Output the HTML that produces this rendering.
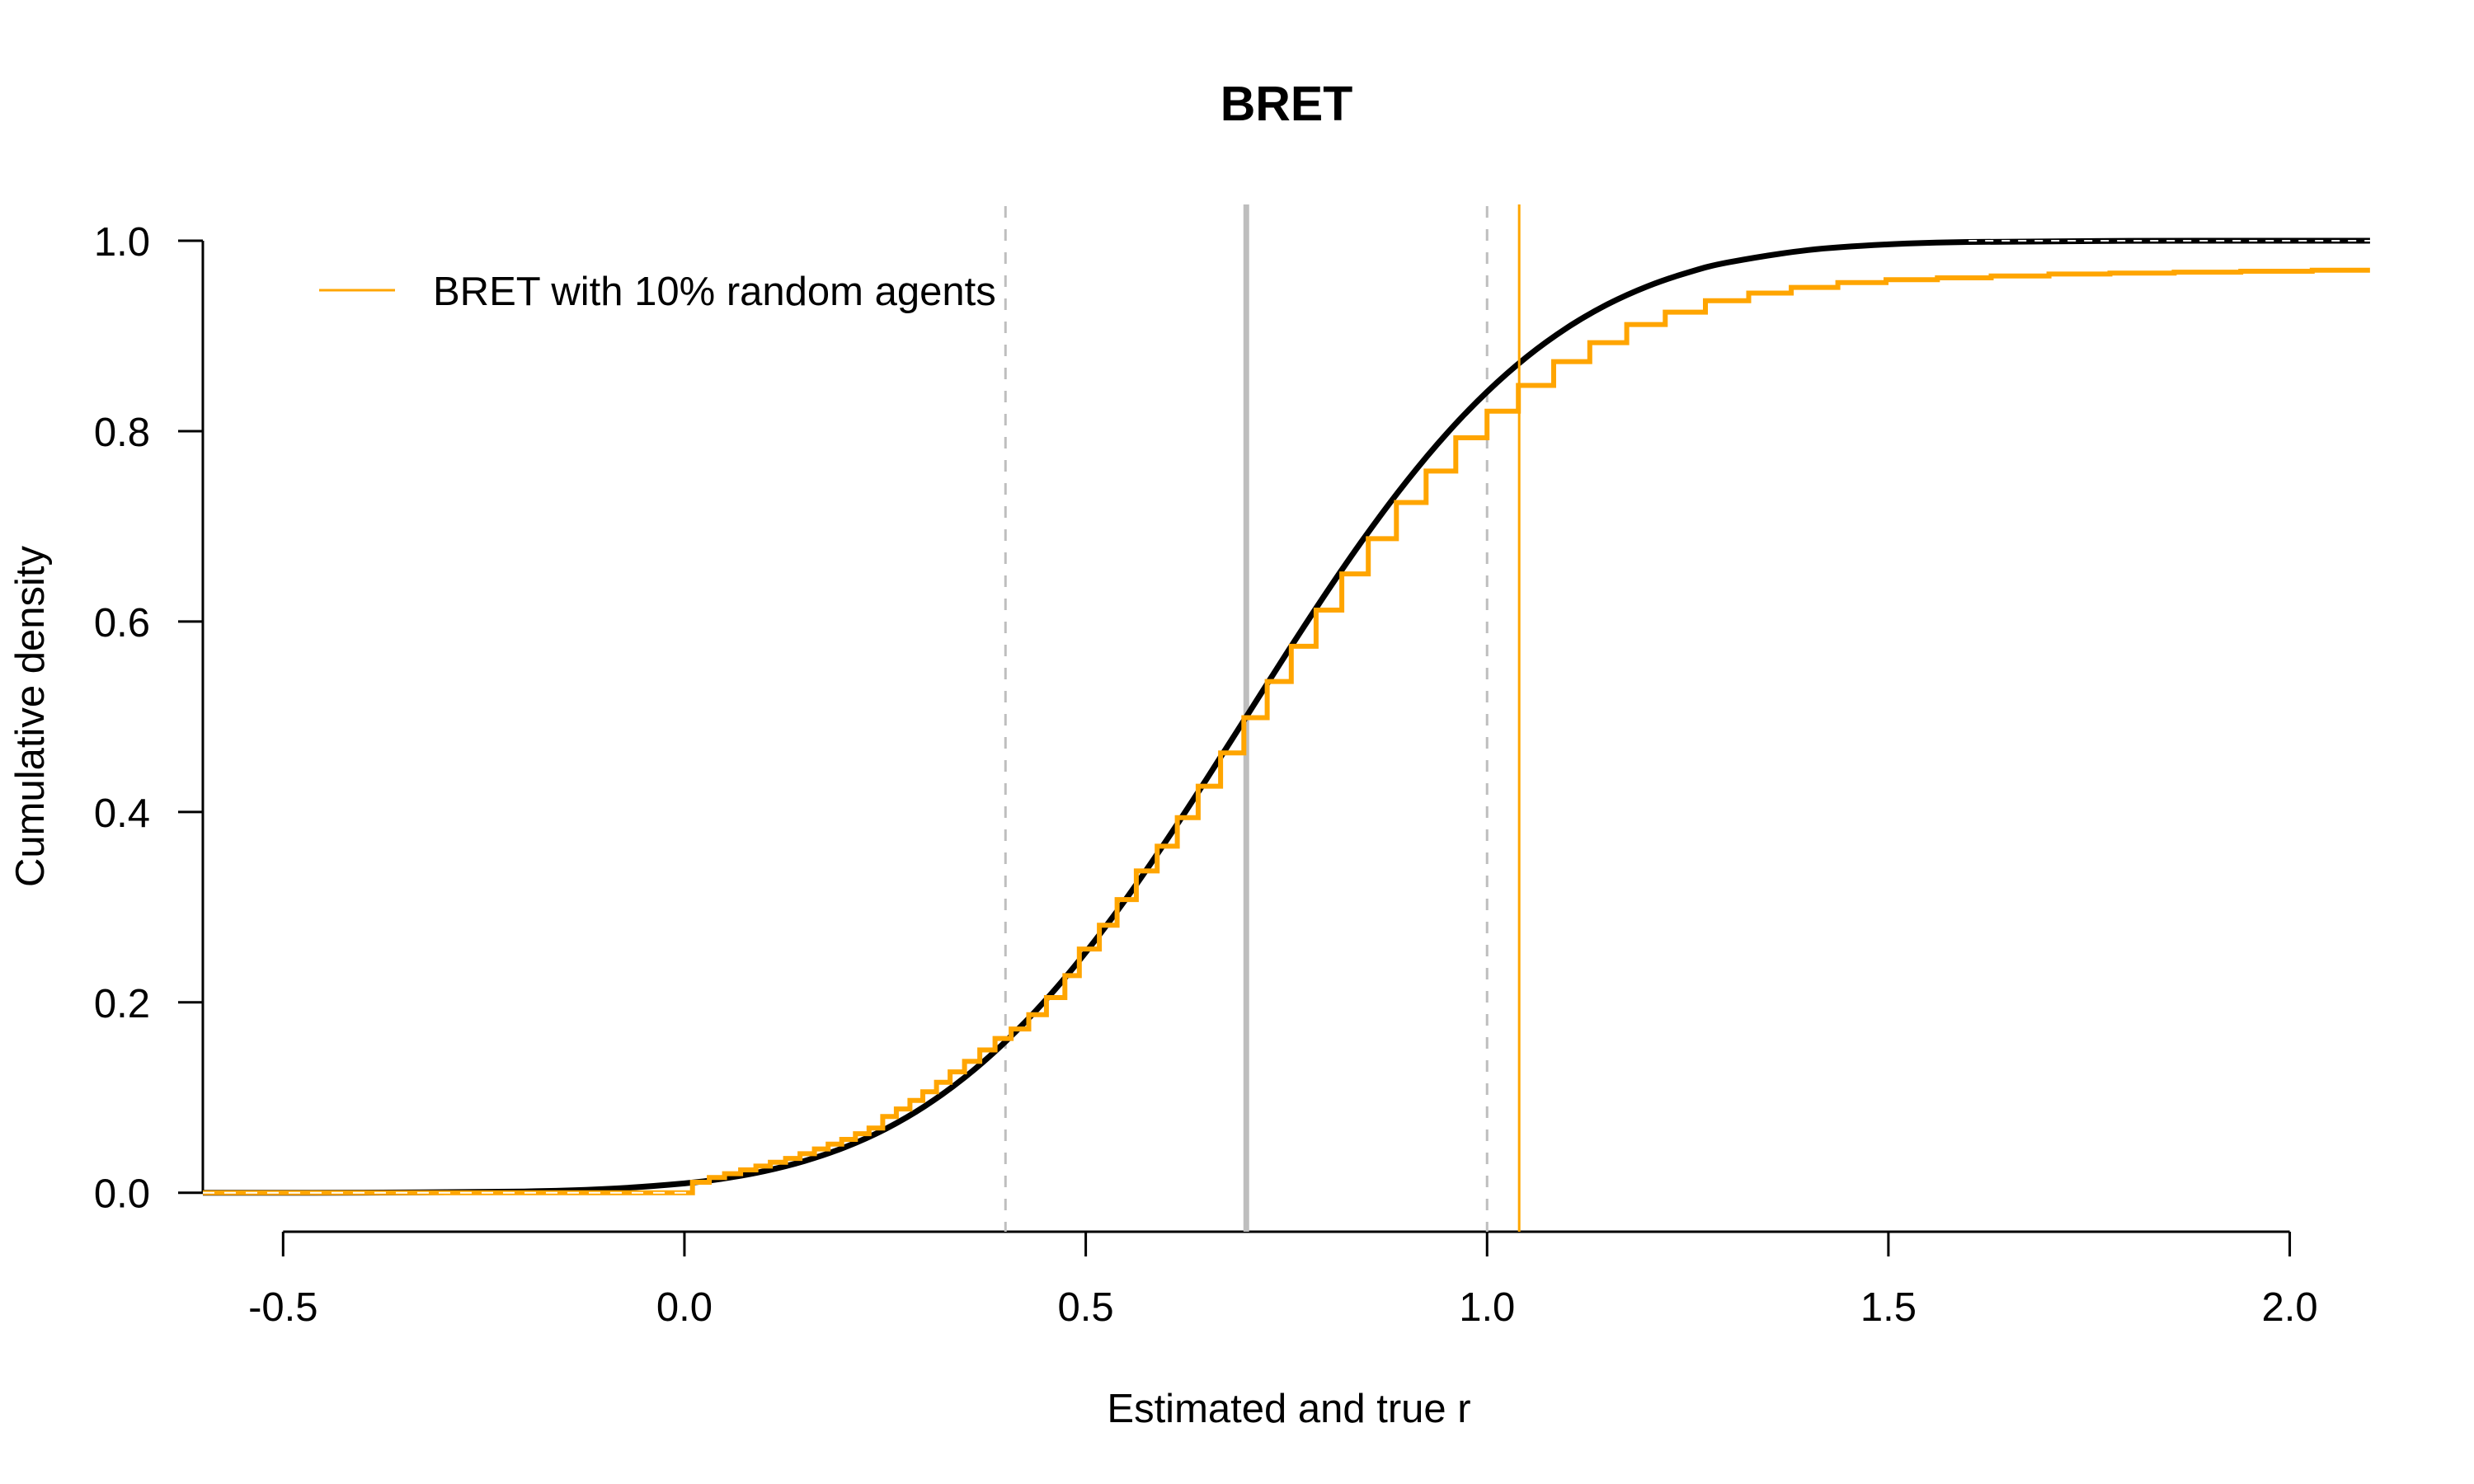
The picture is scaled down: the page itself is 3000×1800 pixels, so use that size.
<!DOCTYPE html>
<html><head><meta charset="utf-8"><style>
html,body{margin:0;padding:0;background:#fff;}
svg{display:block;font-family:"Liberation Sans",Arial,sans-serif;}
</style></head><body>
<svg id="chart" width="3000" height="1800" viewBox="0 0 3000 1800" xmlns="http://www.w3.org/2000/svg">
<rect width="3000" height="1800" fill="#fff"/>
<text x="1560" y="146" text-anchor="middle" font-size="59" font-weight="bold">BRET</text>
<text x="1563" y="1725" text-anchor="middle" font-size="49">Estimated and true r</text>
<text transform="translate(53,869) rotate(-90)" text-anchor="middle" font-size="49">Cumulative density</text>
<g id="plot"></g>
<line x1="387" y1="352" x2="479" y2="352" stroke="#FFA500" stroke-width="3"/>
<text x="525" y="370" font-size="49">BRET with 10% random agents</text>
</svg>
<script>
const xTicks = [-0.5, 0.0, 0.5, 1.0, 1.5, 2.0];
const xTickLabels = ["-0.5", "0.0", "0.5", "1.0", "1.5", "2.0"];
const yTicks = [0, 0.2, 0.4, 0.6, 0.8, 1.0];
const yTickLabels = ["0.0", "0.2", "0.4", "0.6", "0.8", "1.0"];
const trueX = [-0.6,-0.4,-0.2,-0.1,0,0.05,0.1,0.15,0.2,0.25,0.3,0.35,0.4,0.45,0.5,0.55,0.6,0.65,0.7,0.75,0.8,0.85,0.9,0.95,1.0,1.05,1.1,1.15,1.2,1.25,1.3,1.4,1.5,1.6,1.8,2.1];
const trueCdf = [0,0.0001,0.0013,0.0038,0.0098,0.0151,0.0228,0.0334,0.0478,0.0668,0.0912,0.1217,0.1587,0.2023,0.2525,0.3085,0.3694,0.4338,0.5,0.5662,0.6306,0.6915,0.7475,0.7977,0.8413,0.8783,0.9088,0.9332,0.9522,0.9666,0.9772,0.9902,0.9962,0.9987,0.9999,1.0];
const stepX = [0.010,0.031,0.050,0.070,0.089,0.107,0.126,0.144,0.162,0.179,0.196,0.213,0.230,0.247,0.264,0.281,0.297,0.314,0.331,0.349,0.368,0.387,0.407,0.429,0.451,0.474,0.492,0.517,0.539,0.563,0.589,0.614,0.640,0.668,0.697,0.726,0.756,0.787,0.819,0.852,0.887,0.924,0.961,1.000,1.039,1.083,1.128,1.174,1.222,1.272,1.326,1.379,1.437,1.497,1.561,1.628,1.700,1.776,1.856,1.939,2.028];
const stepY = [0.011,0.016,0.020,0.024,0.028,0.032,0.036,0.041,0.046,0.051,0.056,0.062,0.068,0.080,0.088,0.097,0.106,0.116,0.127,0.138,0.150,0.162,0.172,0.187,0.205,0.228,0.256,0.281,0.308,0.338,0.364,0.394,0.427,0.462,0.499,0.537,0.574,0.612,0.650,0.687,0.725,0.758,0.793,0.821,0.848,0.873,0.893,0.912,0.925,0.937,0.945,0.951,0.956,0.959,0.961,0.963,0.965,0.966,0.967,0.968,0.969];
const refLinesDashed = [0.4, 1.0];
const refLineTrue = [0.7];
const refLineOrange = [1.04];
const xMin = -0.6, xMax = 2.1;

const X0 = 343.3, XU = 973.3;
const Y0 = 1446.7, YU = 1154.7;
function sx(v){ return X0 + (v + 0.5) * XU; }
function sy(v){ return Y0 - v * YU; }
const NS = "http://www.w3.org/2000/svg";
const plot = document.getElementById('plot');
function mk(tag, attrs){ const e = document.createElementNS(NS, tag); for (const k in attrs) e.setAttribute(k, attrs[k]); plot.appendChild(e); return e; }

let e = mk('line', {x1: sx(xMin), y1: sy(0), x2: sx(xMin), y2: sy(1), stroke: '#000', 'stroke-width': 3});


yTicks.forEach((t, i) => {
  const tk = mk('line', {x1: sx(xMin) - 30, y1: sy(t), x2: sx(xMin), y2: sy(t), stroke: '#000', 'stroke-width': 3});
  
  
  const lb = mk('text', {x: 182, y: sy(t) + 18, 'text-anchor': 'end', 'font-size': 49});
  lb.textContent = yTickLabels[i];
  
  
});
e = mk('line', {x1: sx(xTicks[0]), y1: 1494, x2: sx(xTicks[xTicks.length-1]), y2: 1494, stroke: '#000', 'stroke-width': 3});


xTicks.forEach((t, i) => {
  const tk = mk('line', {x1: sx(t), y1: 1494, x2: sx(t), y2: 1524, stroke: '#000', 'stroke-width': 3});
  
  
  const lb = mk('text', {x: sx(t), y: 1602, 'text-anchor': 'middle', 'font-size': 49});
  lb.textContent = xTickLabels[i];
  
  
});
refLinesDashed.forEach(v => {
  const l = mk('line', {x1: sx(v), y1: 250, x2: sx(v), y2: 1494, stroke: '#BEBEBE', 'stroke-width': 3, 'stroke-dasharray': '14 14'});
  
  
});
refLineTrue.forEach(v => {
  const l = mk('line', {x1: sx(v), y1: 248, x2: sx(v), y2: 1494, stroke: '#BEBEBE', 'stroke-width': 7});
  
  
});
// smooth true CDF via Catmull-Rom
const pts = trueX.map((x, i) => [sx(x), sy(trueCdf[i])]);
let d = 'M' + pts[0][0].toFixed(1) + ',' + pts[0][1].toFixed(1);
for (let i = 0; i < pts.length - 1; i++) {
  const p0 = pts[Math.max(0, i-1)], p1 = pts[i], p2 = pts[i+1], p3 = pts[Math.min(pts.length-1, i+2)];
  const c1 = [p1[0] + (p2[0]-p0[0])/6, p1[1] + (p2[1]-p0[1])/6];
  const c2 = [p2[0] - (p3[0]-p1[0])/6, p2[1] - (p3[1]-p1[1])/6];
  d += ' C' + c1[0].toFixed(1) + ',' + c1[1].toFixed(1) + ' ' + c2[0].toFixed(1) + ',' + c2[1].toFixed(1) + ' ' + p2[0].toFixed(1) + ',' + p2[1].toFixed(1);
}
e = mk('path', {d: d, fill: 'none', stroke: '#000', 'stroke-width': 7, 'stroke-linejoin': 'round'});


let sd = 'M' + sx(xMin) + ',' + sy(0);
stepX.forEach((x, i) => {
  const prev = i ? stepY[i-1] : 0;
  sd += ' L' + sx(x).toFixed(1) + ',' + sy(prev).toFixed(1) + ' L' + sx(x).toFixed(1) + ',' + sy(stepY[i]).toFixed(1);
});
sd += ' L' + sx(xMax) + ',' + sy(stepY[stepY.length-1]).toFixed(1);
e = mk('path', {d: sd, fill: 'none', stroke: '#FFA500', 'stroke-width': 6, 'stroke-linejoin': 'miter'});


e = mk('line', {x1: sx(xMin), y1: sy(0), x2: sx(stepX[0]), y2: sy(0), stroke: '#fff', 'stroke-width': 2, 'stroke-dasharray': '14 12'});


e = mk('line', {x1: sx(1.6), y1: sy(1), x2: sx(xMax), y2: sy(1), stroke: '#fff', 'stroke-width': 2, 'stroke-dasharray': '10 10'});


refLineOrange.forEach(v => {
  const l = mk('line', {x1: sx(v), y1: 248, x2: sx(v), y2: 1494, stroke: '#FFA500', 'stroke-width': 3});
  
  
});
</script>
</body></html>
